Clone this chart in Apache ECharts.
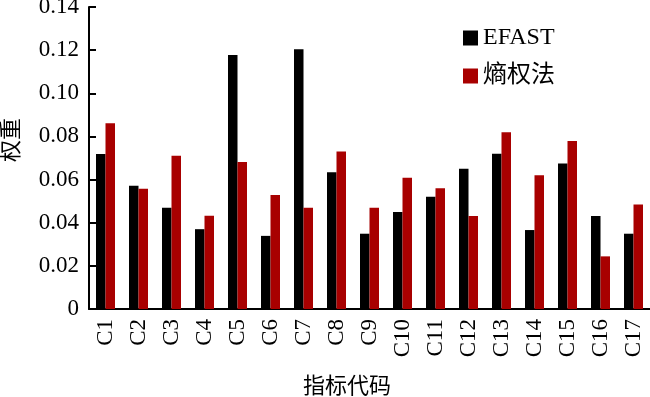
<!DOCTYPE html>
<html><head><meta charset="utf-8">
<script src="https://cdn.jsdelivr.net/npm/echarts@6/dist/echarts.min.js"></script>
<style>html,body{margin:0;padding:0;background:#fff}#c{width:650px;height:397px}</style>
</head><body><div id="c"></div>
<script>
const categories = ['C1','C2','C3','C4','C5','C6','C7','C8','C9','C10','C11','C12','C13','C14','C15','C16','C17'];
const efast = [0.0719,0.0571,0.0469,0.0370,0.1177,0.0339,0.1204,0.0634,0.0349,0.0450,0.0520,0.0650,0.0720,0.0366,0.0674,0.0431,0.0349];
const entropy = [0.0861,0.0557,0.0710,0.0432,0.0681,0.0529,0.0469,0.0730,0.0469,0.0609,0.0560,0.0431,0.0819,0.0620,0.0779,0.0244,0.0484];
const yTicks = ['0','0.02','0.04','0.06','0.08','0.10','0.12','0.14'];
const FONT = '"Liberation Serif", "Noto Sans CJK SC", serif';
const chart = echarts.init(document.getElementById('c'));
chart.setOption({
  animation: false,
  textStyle: {fontFamily: FONT},
  title: {text: '指标代码', left: 342, top: 371, textAlign: 'center',
    textStyle: {fontFamily: FONT, fontSize: 22, fontWeight: 'normal', color: '#000'}},
  legend: {
    right: 90, top: 21, orient: 'vertical', itemWidth: 15, itemHeight: 15, itemGap: 14,
    icon: 'rect',
    textStyle: {fontFamily: FONT, fontSize: 24, color: '#000'},
    data: ['EFAST', '熵权法']
  },
  grid: {left: 89, right: 0, top: 7, bottom: 88, outerBoundsMode: 'none', containLabel: false},
  xAxis: {
    type: 'category', data: categories,
    axisLine: {lineStyle: {color: '#000', width: 2}},
    axisTick: {show: false},
    axisLabel: {rotate: 90, margin: 10, fontSize: 23, color: '#000', fontFamily: FONT}
  },
  yAxis: {
    type: 'value', min: 0, max: 0.14, interval: 0.02,
    name: '权重', nameLocation: 'middle', nameGap: 66, nameRotate: 90,
    nameTextStyle: {fontFamily: FONT, fontSize: 22, color: '#000', padding: [0, 0, 0, 36]},
    axisLine: {show: true, lineStyle: {color: '#000', width: 2}},
    axisTick: {show: true, inside: true, length: 7, lineStyle: {color: '#000', width: 2}},
    splitLine: {show: false},
    axisLabel: {margin: 10, fontSize: 23, color: '#000', fontFamily: FONT,
      formatter: function (v) { return yTicks[Math.round(v / 0.02)]; }}
  },
  series: [
    {name: 'EFAST', type: 'bar', data: efast, barWidth: 9.5, barGap: '0%', itemStyle: {color: '#000'}},
    {name: '熵权法', type: 'bar', data: entropy, barWidth: 9.5, itemStyle: {color: '#a80000'}}
  ]
});
</script></body></html>
